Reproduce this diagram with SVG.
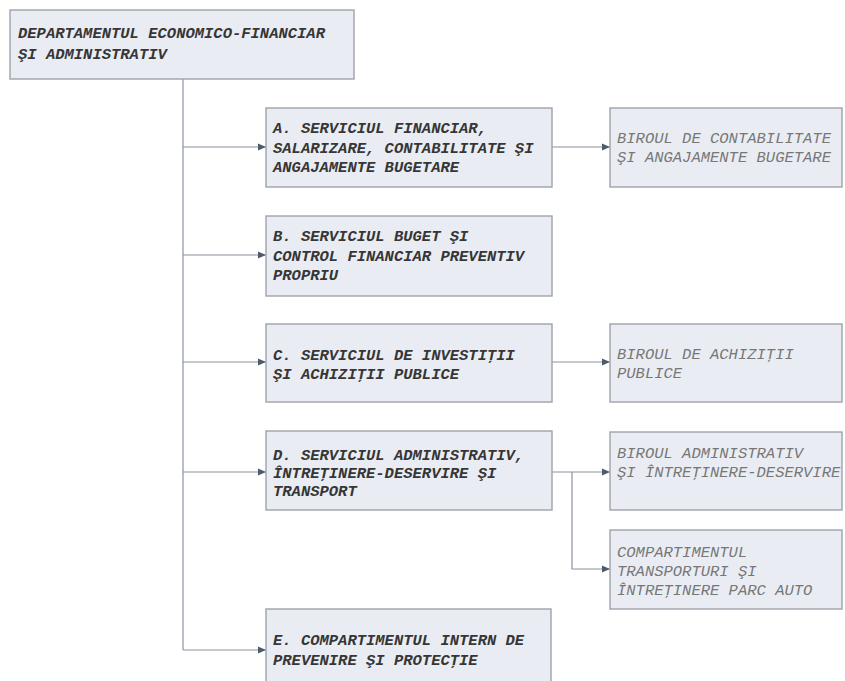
<svg xmlns="http://www.w3.org/2000/svg" width="845" height="681" viewBox="0 0 845 681">
<defs>
<style>
.box{fill:#e9edf3;stroke:#9ea2a8;stroke-width:1.4}
.t{font-family:"Liberation Mono","Courier New",monospace;font-size:15.5px;font-style:italic;font-weight:bold;fill:#363636}
.l{font-family:"Liberation Mono","Courier New",monospace;font-size:15.5px;font-style:italic;fill:#777777}
.c{fill:none;stroke:#8a93a0;stroke-width:1.2}
</style>
<marker id="ah" markerWidth="9" markerHeight="9" refX="8" refY="4" orient="auto" markerUnits="userSpaceOnUse">
<path d="M0,0.5 L8,4 L0,7.5 Z" fill="#4f5a6a"/>
</marker>
</defs>
<rect width="845" height="681" fill="#ffffff"/>
<g id="connectors">
<path class="c" d="M183,79 V650"/>
<path class="c" d="M183,147 H266" marker-end="url(#ah)"/>
<path class="c" d="M183,255 H266" marker-end="url(#ah)"/>
<path class="c" d="M183,362 H266" marker-end="url(#ah)"/>
<path class="c" d="M183,472 H266" marker-end="url(#ah)"/>
<path class="c" d="M183,650 H266" marker-end="url(#ah)"/>
<path class="c" d="M552,147 H610" marker-end="url(#ah)"/>
<path class="c" d="M552,362 H610" marker-end="url(#ah)"/>
<path class="c" d="M552,472 H610" marker-end="url(#ah)"/>
<path class="c" d="M572,472 V569 H610" marker-end="url(#ah)"/>
</g>
<g id="root">
<rect class="box" x="10" y="10" width="344" height="69"/>
<text class="t" x="18" y="38">DEPARTAMENTUL ECONOMICO-FINANCIAR</text>
<text class="t" x="18" y="59">ŞI ADMINISTRATIV</text>
</g>
<g id="nodeA">
<rect class="box" x="266" y="108" width="286" height="79"/>
<text class="t" x="273" y="133">A. SERVICIUL FINANCIAR,</text>
<text class="t" x="273" y="153">SALARIZARE, CONTABILITATE ŞI</text>
<text class="t" x="273" y="172">ANGAJAMENTE BUGETARE</text>
</g>
<g id="birouContab">
<rect class="box" x="610" y="108" width="232" height="79"/>
<text class="l" x="617" y="143">BIROUL DE CONTABILITATE</text>
<text class="l" x="617" y="162">ŞI ANGAJAMENTE BUGETARE</text>
</g>
<g id="nodeB">
<rect class="box" x="266" y="216" width="286" height="80"/>
<text class="t" x="273" y="241">B. SERVICIUL BUGET ŞI</text>
<text class="t" x="273" y="261">CONTROL FINANCIAR PREVENTIV</text>
<text class="t" x="273" y="280">PROPRIU</text>
</g>
<g id="nodeC">
<rect class="box" x="266" y="324" width="286" height="78"/>
<text class="t" x="273" y="360">C.  SERVICIUL DE INVESTIŢII</text>
<text class="t" x="273" y="379">ŞI ACHIZIŢII PUBLICE</text>
</g>
<g id="birouAchiz">
<rect class="box" x="610" y="324" width="232" height="78"/>
<text class="l" x="617" y="359">BIROUL DE ACHIZIŢII</text>
<text class="l" x="617" y="378">PUBLICE</text>
</g>
<g id="nodeD">
<rect class="box" x="266" y="431" width="286" height="79"/>
<text class="t" x="273" y="460">D. SERVICIUL ADMINISTRATIV,</text>
<text class="t" x="273" y="478">ÎNTREŢINERE-DESERVIRE ŞI</text>
<text class="t" x="273" y="496">TRANSPORT</text>
</g>
<g id="birouAdmin">
<rect class="box" x="610" y="432" width="232" height="78"/>
<text class="l" x="617" y="458">BIROUL ADMINISTRATIV</text>
<text class="l" x="617" y="477">ŞI ÎNTREŢINERE-DESERVIRE</text>
</g>
<g id="compTransport">
<rect class="box" x="610" y="530" width="232" height="79"/>
<text class="l" x="617" y="557">COMPARTIMENTUL</text>
<text class="l" x="617" y="576">TRANSPORTURI ŞI</text>
<text class="l" x="617" y="595">ÎNTREŢINERE PARC AUTO</text>
</g>
<g id="nodeE">
<rect class="box" x="266" y="609" width="285" height="80"/>
<text class="t" x="273" y="645">E. COMPARTIMENTUL INTERN DE</text>
<text class="t" x="273" y="665">PREVENIRE ŞI PROTECŢIE</text>
</g>
</svg>
